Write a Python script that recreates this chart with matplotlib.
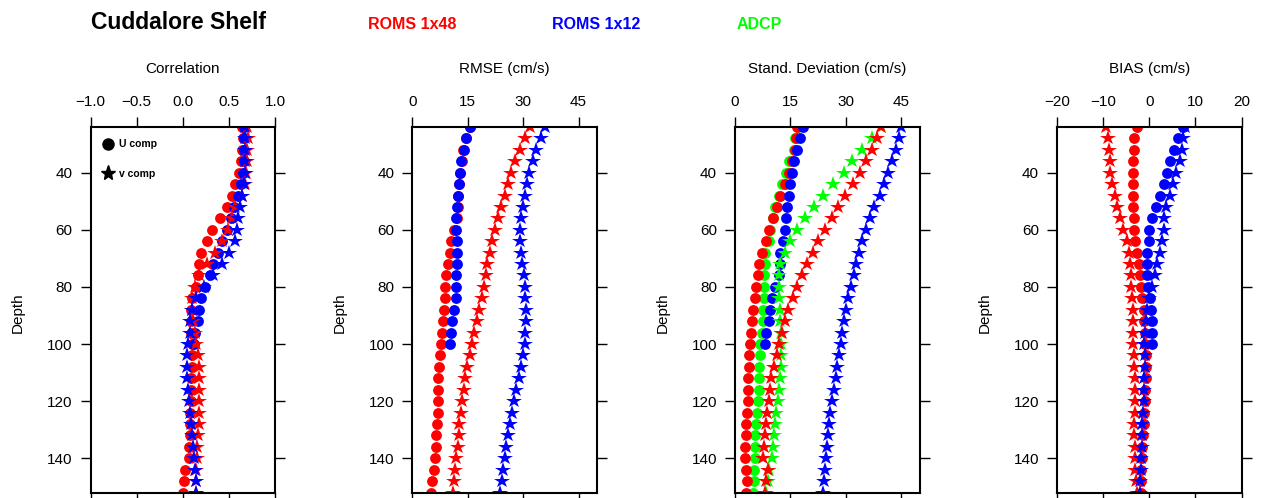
import matplotlib
matplotlib.use("Agg")
import matplotlib.pyplot as plt
from matplotlib.lines import Line2D

plt.rcParams["font.family"] = ["Liberation Sans", "DejaVu Sans"]

# depth levels (m); the 1x12 U profile only reaches 100 m
depth = list(range(24, 153, 4))
depth_u12 = list(range(24, 101, 4))

corr_u48 = [0.64, 0.65, 0.64, 0.63, 0.61, 0.57, 0.53, 0.48, 0.40, 0.32,
            0.26, 0.20, 0.18, 0.16, 0.14, 0.10, 0.09, 0.09, 0.09, 0.10,
            0.10, 0.10, 0.09, 0.09, 0.09, 0.08, 0.08, 0.08, 0.07, 0.07,
            0.02, 0.01, 0.00]
corr_v48 = [0.70, 0.71, 0.70, 0.70, 0.69, 0.67, 0.64, 0.57, 0.53, 0.49,
            0.43, 0.35, 0.26, 0.17, 0.13, 0.10, 0.10, 0.11, 0.13, 0.14,
            0.16, 0.17, 0.18, 0.18, 0.18, 0.18, 0.17, 0.16, 0.15, 0.15,
            0.14, 0.14, 0.14]
corr_u12 = [0.66, 0.66, 0.66, 0.66, 0.65, 0.63, 0.60, 0.56, 0.52, 0.48,
            0.43, 0.38, 0.33, 0.30, 0.24, 0.20, 0.18, 0.16, 0.13, 0.12]
corr_v12 = [0.67, 0.67, 0.67, 0.67, 0.67, 0.66, 0.64, 0.62, 0.60, 0.59,
            0.57, 0.50, 0.42, 0.33, 0.23, 0.14, 0.10, 0.08, 0.08, 0.06,
            0.05, 0.05, 0.05, 0.06, 0.07, 0.08, 0.09, 0.10, 0.11, 0.12,
            0.13, 0.14, 0.14]

rmse_u48 = [15.5, 14.6, 13.8, 13.3, 12.9, 12.6, 12.4, 12.2, 12.0, 11.2,
            10.5, 10.1, 9.6, 9.0, 8.9, 8.7, 8.6, 8.3, 8.0, 7.6,
            7.5, 7.2, 7.0, 7.0, 6.9, 6.8, 6.7, 6.5, 6.3, 6.2,
            5.8, 5.3, 4.9]
rmse_v48 = [31.9, 30.4, 29.0, 27.7, 26.8, 26.0, 25.0, 24.1, 23.2, 22.4,
            21.6, 20.9, 20.3, 20.0, 19.5, 18.9, 18.0, 17.5, 16.8, 16.2,
            15.5, 14.9, 14.3, 13.9, 13.5, 13.1, 12.6, 12.5, 12.3, 11.9,
            11.6, 11.3, 11.0]
rmse_u12 = [15.7, 14.6, 13.9, 13.2, 12.8, 12.6, 12.3, 12.1, 11.9, 11.9,
            12.1, 12.1, 12.1, 11.9, 11.9, 11.7, 11.2, 10.8, 10.4, 10.1]
rmse_v12 = [35.8, 34.7, 33.5, 32.6, 31.7, 31.1, 30.4, 29.9, 29.5, 29.0,
            29.0, 29.5, 29.7, 30.1, 30.4, 30.6, 30.8, 30.8, 30.6, 30.4,
            29.9, 29.5, 28.8, 28.1, 27.5, 27.0, 26.3, 25.9, 25.4, 25.0,
            24.5, 24.3, 23.8]

std_u48 = [16.8, 16.5, 16.2, 15.3, 14.7, 13.6, 12.3, 11.4, 10.3, 9.3,
           8.4, 7.3, 6.6, 6.1, 5.6, 5.3, 4.8, 4.5, 4.4, 4.1,
           3.9, 3.8, 3.6, 3.5, 3.4, 3.2, 3.0, 3.0, 2.7, 2.7,
           3.0, 3.2, 3.0]
std_v48 = [39.5, 38.4, 37.0, 35.5, 33.9, 32.0, 29.8, 27.9, 26.4, 24.5,
           22.5, 21.2, 19.5, 18.2, 16.8, 15.7, 14.4, 13.5, 12.7, 11.8,
           11.4, 10.6, 9.8, 9.5, 9.1, 8.6, 8.4, 8.2, 7.9, 7.7,
           8.8, 8.4, 8.2]
std_u12 = [18.5, 17.5, 16.8, 16.1, 15.5, 15.0, 14.5, 14.1, 13.8, 13.5,
           13.0, 12.3, 12.1, 11.8, 10.9, 10.0, 9.5, 9.1, 8.5, 8.2]
std_v12 = [45.0, 44.3, 43.5, 42.5, 41.5, 40.3, 39.3, 37.7, 36.6, 35.5,
           34.5, 33.6, 32.7, 32.1, 31.4, 30.5, 30.0, 29.5, 29.1, 28.6,
           28.2, 27.7, 27.3, 26.8, 26.4, 25.7, 25.5, 25.2, 24.9, 24.6,
           24.4, 24.2, 23.7]
std_adcp_u = [17.1, 16.2, 15.9, 14.5, 13.9, 12.7, 11.8, 10.9, 10.2, 9.5,
              9.1, 8.2, 8.0, 7.9, 7.9, 7.9, 7.7, 7.5, 7.3, 6.8,
              6.8, 6.6, 6.5, 6.4, 6.1, 5.9, 5.8, 5.5, 5.5, 5.3,
              5.0, 5.0, 4.8]
std_adcp_v = [39.5, 37.0, 34.4, 31.8, 29.4, 26.6, 23.9, 21.4, 18.9, 16.8,
              14.8, 13.6, 12.3, 11.8, 11.8, 12.0, 12.1, 12.3, 12.5, 12.5,
              12.5, 12.5, 12.3, 12.0, 11.6, 11.2, 10.9, 10.6, 10.4, 9.9,
              9.3, 8.8, 8.5]

bias_u48 = [-2.6, -3.3, -3.4, -3.5, -3.5, -3.5, -3.5, -3.5, -3.4, -3.3,
            -3.1, -2.7, -2.3, -2.0, -1.7, -1.5, -1.2, -1.1, -0.9, -0.9,
            -0.7, -0.7, -0.7, -0.9, -0.9, -1.1, -1.2, -1.3, -1.5, -1.5,
            -1.7, -1.7, -1.8]
bias_v48 = [-9.3, -9.0, -8.8, -8.5, -8.5, -8.0, -7.5, -7.1, -6.4, -5.6,
            -4.9, -4.5, -4.2, -3.9, -3.9, -3.8, -3.6, -3.6, -3.6, -3.5,
            -3.4, -3.3, -3.1, -3.1, -3.1, -3.1, -3.3, -3.3, -3.1, -3.1,
            -3.1, -2.9, -2.6]
bias_u12 = [7.3, 6.2, 5.3, 4.5, 3.8, 3.1, 2.4, 1.5, 0.7, 0.0,
            0.0, -0.4, -0.4, -0.4, -0.2, 0.2, 0.4, 0.6, 0.7, 0.7]
bias_v12 = [7.8, 7.4, 7.1, 6.6, 5.8, 5.1, 4.4, 3.6, 3.3, 3.1,
            2.8, 2.4, 1.7, 1.2, 0.7, 0.0, -0.4, -0.7, -0.9, -1.1,
            -0.9, -0.9, -1.2, -1.2, -1.2, -1.3, -1.5, -1.6, -1.6, -1.8,
            -1.8, -2.0, -2.0]

panel_titles = ["Correlation", "RMSE (cm/s)", "Stand. Deviation (cm/s)", "BIAS (cm/s)"]
panel_xlims = [(-1, 1), (0, 50), (0, 50), (-20, 20)]
panel_xticks = [[-1.0, -0.5, 0.0, 0.5, 1.0], [0, 15, 30, 45], [0, 15, 30, 45],
                [-20, -10, 0, 10, 20]]
depth_ticks = [40, 60, 80, 100, 120, 140]

RED, BLUE, GREEN = "#ff0000", "#0000ff", "#00ff00"
CIRC = dict(marker="o", ms=7.8, ls="none", mew=0)
STAR = dict(marker="*", ms=11.5, ls="none", mew=0)

fig = plt.figure(figsize=(12.63, 4.98), dpi=100)
lefts = [0.0717, 0.3266, 0.5820, 0.8369]
axes = [fig.add_axes([l, 0.011, 0.1461, 0.734]) for l in lefts]

series = [
    # (u48, v48, u12, v12, adcp_u, adcp_v)
    (corr_u48, corr_v48, corr_u12, corr_v12, None, None),
    (rmse_u48, rmse_v48, rmse_u12, rmse_v12, None, None),
    (std_u48, std_v48, std_u12, std_v12, std_adcp_u, std_adcp_v),
    (bias_u48, bias_v48, bias_u12, bias_v12, None, None),
]

for ax, title, xl, xt, s in zip(axes, panel_titles, panel_xlims, panel_xticks, series):
    u48, v48, u12, v12, au, av = s
    if au is not None:
        ax.plot(au, depth, color=GREEN, **CIRC)
    ax.plot(u48, depth, color=RED, **CIRC)
    ax.plot(u12, depth_u12, color=BLUE, **CIRC)
    if av is not None:
        ax.plot(av, depth, color=GREEN, **STAR)
    ax.plot(v48, depth, color=RED, **STAR)
    ax.plot(v12, depth, color=BLUE, **STAR)

    ax.set_xlim(*xl)
    ax.set_xticks(xt)
    ax.set_ylim(152, 24)
    ax.set_yticks(depth_ticks)
    ax.tick_params(direction="out", length=7, width=1, labelsize=11, pad=6,
                   top=True, labeltop=True, bottom=True, labelbottom=False,
                   left=True, right=True)
    for sp in ax.spines.values():
        sp.set_linewidth(1.5)
    ax.text(0.5, 1.159, title, transform=ax.transAxes, ha="center", va="center",
            fontsize=11)
    ax.text(-0.393, 0.491, "Depth", transform=ax.transAxes, ha="center", va="center",
            rotation=90, fontsize=11)

# component key inside the correlation panel
key = [Line2D([], [], color="black", marker="o", ls="none", ms=8, label="U comp"),
       Line2D([], [], color="black", marker="*", ls="none", ms=11, label="v comp")]
axes[0].legend(handles=key, loc="upper left", bbox_to_anchor=(0.045, 0.978),
               frameon=False, prop=dict(size=7.5, weight="bold"), labelspacing=1.9,
               handlelength=1.0, handletextpad=0.55, borderaxespad=0.0)

fig.text(0.072, 0.955, "Cuddalore Shelf", fontsize=16.5, fontweight="bold",
         ha="left", va="center")
for x, label, col in [(0.2915, "ROMS 1x48", RED), (0.437, "ROMS 1x12", BLUE),
                      (0.5835, "ADCP", GREEN)]:
    fig.text(x, 0.95, label, color=col, fontsize=11.5, fontweight="bold",
             ha="left", va="center")

fig.savefig("out.png", dpi=100)
